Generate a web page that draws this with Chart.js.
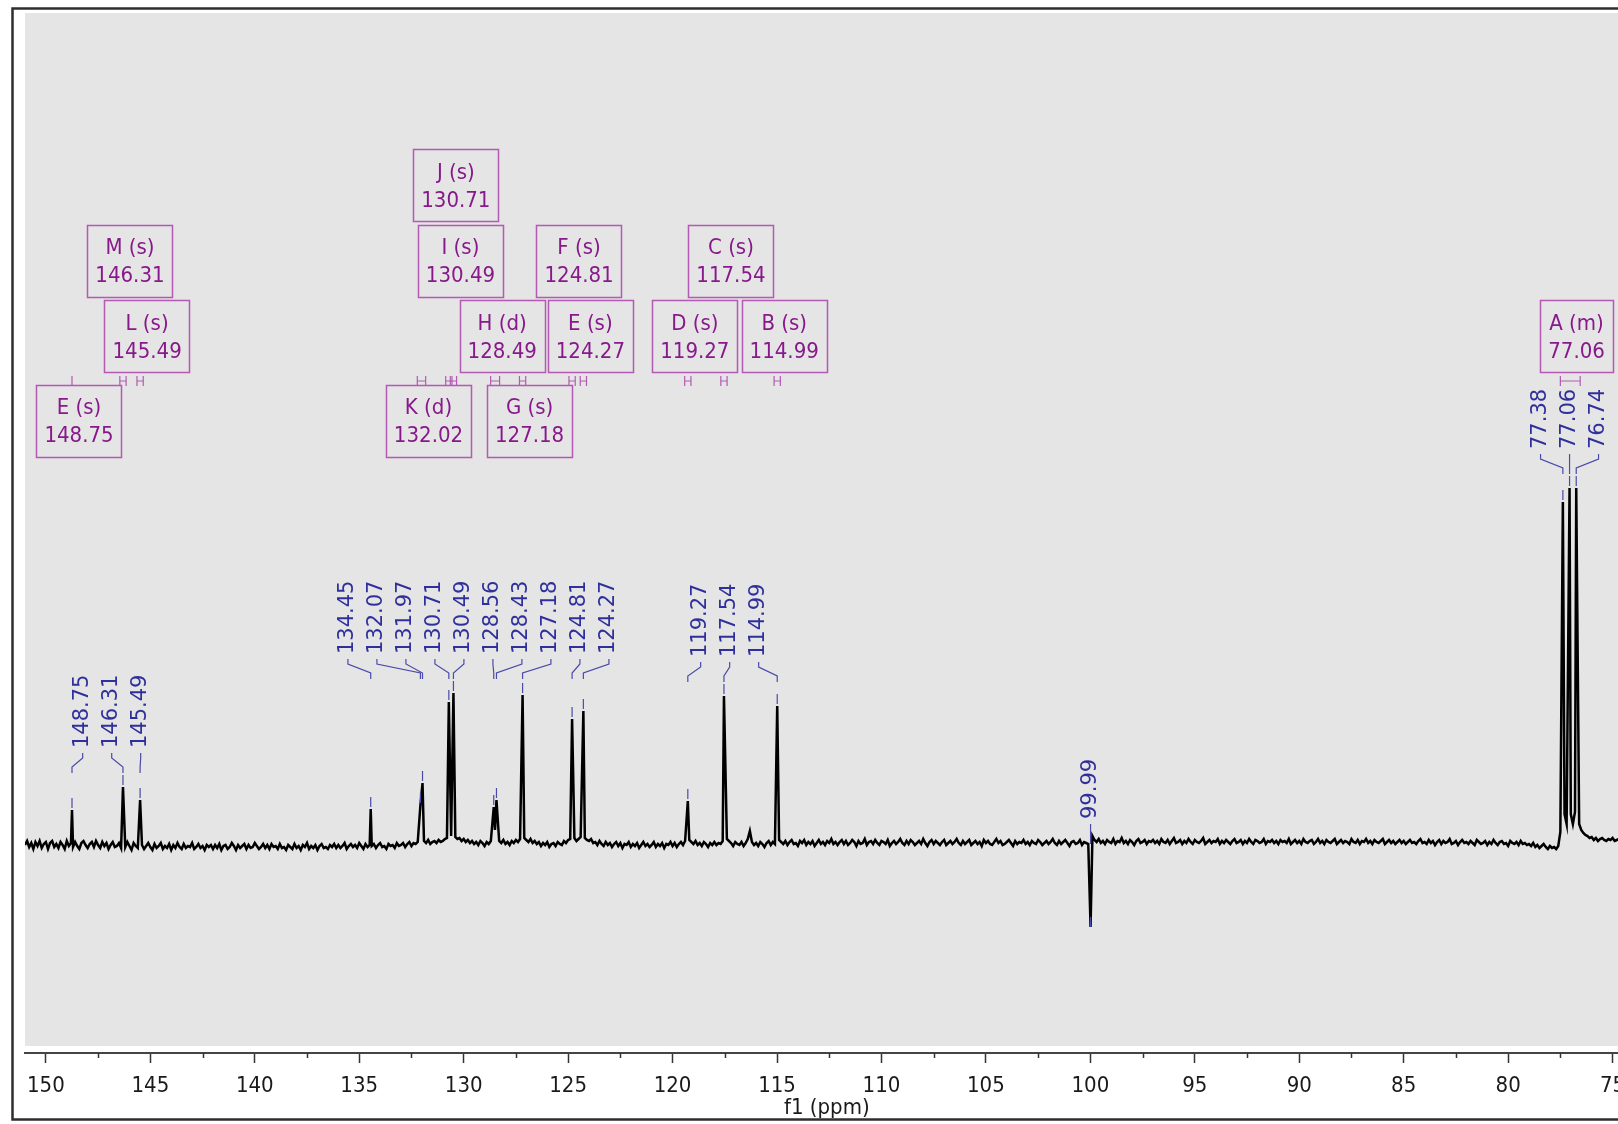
<!DOCTYPE html>
<html>
<head>
<meta charset="utf-8">
<title>13C NMR spectrum</title>
<script src="https://cdn.jsdelivr.net/npm/chart.js@4.4.1/dist/chart.umd.min.js"></script>
<style>
  html, body { margin: 0; padding: 0; background: #fff; overflow: hidden; }
  #wrap { position: relative; width: 1618px; height: 1124px; overflow: hidden; }
  #spec { position: absolute; left: 0; top: 0; }
</style>
</head>
<body>
<div id="wrap"><canvas id="spec" width="1660" height="1124"></canvas></div>
<script>
// ---- spectral window (ppm); the plot runs past the right edge of the page ----
const ppmStart = 151.0;
const ppmEnd = 72.73;
const baselineStep = 0.1;            // ppm between baseline samples
const axisMajorStep = 5;
const axisMinorStep = 2.5;

// baseline samples from 151.0 ppm downwards (arbitrary intensity units)
const baselineNoise = [
  -1, 3, -3, 1, -5, 2, -2, 3, -4, 0, 2, -5, 1, 3, -3, 0, -4, 2, -1, -5, 3, -2, 1, -3, 2, -2, -5, 1, 3, -1,
  -4, 0, 2, -3, 3, -1, -4, 2, -2, 1, -5, -1, 2, -3, -2, 1, -4, 0, -3, 2, -2, -6, 1, -2, -4, 2, -1, -5, -2, 1,
  -3, -6, 0, -4, -2, 1, -5, -2, -4, 0, -6, -1, -4, 1, -3, -5, 0, -4, -2, -3, 1, -5, -3, 0, -4, -2, -6, -1, -3, -1,
  -5, -1, -4, 0, -6, -2, -1, -5, -3, 1, -2, -6, -1, -4, -2, 0, -5, -1, -4, -3, 1, -2, -5, -3, 0, -4, -1, -5, 0, -3,
  -2, -5, 0, -4, -3, -6, -1, -3, -5, 0, -4, -2, -6, -1, -3, 1, -5, -2, -4, -1, -6, -2, 0, -4, -3, -5, -1, -3, 0, -4,
  -1, -4, -2, 1, -5, -2, 0, -3, -1, -4, 1, -2, -5, 0, -3, -1, -2, 0, -4, -1, 1, -3, -2, -5, 0, -2, -1, -4, 1, -2,
  -1, 1, -3, 0, 2, -2, 1, 0, 2, 0, 0, 3, 1, 4, 0, 2, 3, 1, 4, 2, 3, 5, 6, 0, 8, 0, 7, 5, 6, 3,
  5, 2, 4, 1, 3, 0, 2, -1, 3, 1, -2, 2, 0, 3, 0, 14, 0, 3, 1, 4, 0, 2, -1, 3, 1, 4, 2, 5, 0, 6,
  4, 2, 5, 1, 3, 0, 2, -2, 1, -1, 2, -3, 0, 1, -2, 2, 0, -1, 3, 1, 4, 5, 0, 6, 3, 5, 7, 0, 6, 4,
  3, 5, 1, 2, -1, 3, 0, -2, 2, -1, 1, -3, 0, 2, -2, 1, -4, 0, -1, 2, -3, 0, -2, 1, -4, -1, 2, -2, 0, -3,
  -1, 2, -3, 0, -2, 1, -4, 0, -1, 2, -2, 1, -3, 0, 2, -1, 3, 0, 4, 2, 0, 3, -1, 1, -2, 2, 0, -3, 1, -1,
  2, -1, 1, 0, 3, 0, 5, 3, 1, -2, 2, 0, -1, 2, -2, 1, 5, 13, 2, -1, 1, -2, 2, 0, -3, 1, 3, -1, 2, 0,
  0, 4, 2, 0, 3, -1, 2, 4, 0, 1, -2, 3, 1, 4, -1, 2, 0, 3, -2, 1, 4, 0, 2, -1, 3, 1, 5, 0, 2, -1,
  2, 4, 0, 3, -1, 1, 4, 2, -2, 3, 0, 1, 5, -1, 2, 3, 0, 4, 1, -1, 3, 2, 0, 4, -2, 1, 3, 0, 2, 5,
  1, -1, 3, 0, 4, 2, -1, 1, 3, 0, 5, 1, -2, 2, 4, 0, 3, 1, -1, 2, 4, -1, 1, 3, 0, 2, 5, 1, -1, 3,
  0, 2, 4, -1, 1, 3, 0, 2, -2, 4, 1, 3, 0, -1, 2, 5, 1, 3, -1, 0, 2, 4, 1, -2, 3, 0, 2, 1, 4, 0,
  2, -1, 3, 1, 0, 4, 2, -1, 1, 3, 0, 2, 5, 1, -1, 3, 0, 2, 4, 1, -2, 2, 3, 0, 1, 4, -1, 2, 1, 0,
  0, 8, 4, 2, 5, 1, 3, 0, 4, 2, 1, 5, 0, 3, 2, 6, 1, 3, 0, 4, 2, -1, 3, 5, 1, 2, 4, 0, 3, 2,
  4, 1, 3, 0, 5, 2, 1, 4, 0, 3, 6, 1, 2, 4, 0, 3, 1, 5, 2, 0, 4, 2, 1, 3, 6, 0, 2, 4, 1, 3,
  2, 5, 0, 3, 1, 4, 2, 0, 3, 5, 1, 2, 4, 0, 3, 1, 5, 2, 0, 4, 3, 1, 2, 5, 0, 3, 2, 4, 1, 3,
  0, 4, 2, 3, 1, 5, 0, 2, 4, 1, 3, 0, 5, 2, 1, 3, 4, 0, 2, 5, 1, 3, 0, 4, 2, 1, 3, 5, 0, 2,
  4, 1, 3, 2, 0, 5, 2, 1, 4, 0, 3, 2, 5, 1, 3, 0, 4, 2, 1, 3, 5, 0, 2, 4, 1, 3, 0, 2, 4, 1,
  3, 0, 2, 4, 1, 2, 0, 3, 5, 1, 2, 0, 4, 1, 3, -1, 2, 4, 0, 3, 1, 2, 5, 0, 1, 3, -1, 2, 4, 1,
  2, 0, 3, 1, -1, 4, 2, 0, 1, 3, -1, 2, 0, 4, 1, -1, 2, 3, 0, 1, -2, 3, 1, 0, 2, -1, 3, 0, 1, -1,
  0, -2, 1, -3, -1, -4, -2, 0, -3, -5, -2, -4, -3, -5, -2, 12, 0, 30, 20, 0, 30, 20, 32, 0, 20, 14, 11, 9, 8, 6,
  7, 4, 6, 3, 5, 6, 4, 3, 5, 4, 6, 3, 4, 5, 3, 5, 4, 2, 4, 3, 5, 2, 4, 3, 1, 4, 3, 2, 4, 3, 1, 3, 2, 4
];

// picked peaks (ppm) and their heights
const peakShifts  = [148.75, 146.31, 145.49, 134.45, 132.07, 131.97, 130.71, 130.49, 128.56, 128.43,
                     127.18, 124.81, 124.27, 119.27, 117.54, 114.99, 99.99, 77.38, 77.06, 76.74];
const peakHeights = [34, 57, 44, 35, 39, 61, 142, 151, 37, 44,
                     149, 125, 133, 43, 148, 138, -83, 342, 356, 356];

// multiplet analysis
const multipletNames  = ['E (s)', 'M (s)', 'L (s)', 'K (d)', 'J (s)', 'I (s)', 'H (d)',
                         'G (s)', 'F (s)', 'E (s)', 'D (s)', 'C (s)', 'B (s)', 'A (m)'];
const multipletShifts = [148.75, 146.31, 145.49, 132.02, 130.71, 130.49, 128.49,
                         127.18, 124.81, 124.27, 119.27, 117.54, 114.99, 77.06];
const multipletFrom   = [148.75, 146.46, 145.64, 132.22, 130.86, 130.64, 128.71,
                         127.33, 124.96, 124.42, 119.42, 117.69, 115.14, 77.50];
const multipletTo     = [148.75, 146.16, 145.34, 131.82, 130.56, 130.34, 128.28,
                         127.03, 124.66, 124.12, 119.12, 117.39, 114.84, 76.55];

// ---- build the trace: baseline samples plus peak maxima ----
const spectrum = [];
baselineNoise.forEach((v, i) => {
  const x = +(ppmStart - i * baselineStep).toFixed(3);
  if (peakShifts.some(p => Math.abs(p - x) <= 0.045)) return;
  spectrum.push({ x, y: v });
});
peakShifts.forEach((p, i) => spectrum.push({ x: p, y: peakHeights[i] }));
spectrum.sort((a, b) => b.x - a.x);

// ---- drawing helpers ----
const NARROW = "'DejaVu Sans Condensed', 'DejaVu Sans', sans-serif";
const WIDE = "'DejaVu Sans', 'Verdana', sans-serif";
const LABEL_BLUE = '#30309c';
const LINK_BLUE = '#4a4aaa';
const BOX_LINE = '#b45ab4';
const BOX_TEXT = '#87198a';

const backdrop = {
  id: 'backdrop',
  beforeDraw(chart) {
    const { ctx, chartArea: a } = chart;
    ctx.save();
    ctx.fillStyle = '#ffffff';
    ctx.fillRect(0, 0, chart.width, chart.height);
    ctx.fillStyle = '#e5e5e5';
    ctx.fillRect(a.left, a.top, a.right - a.left, a.bottom - 7 - a.top);
    ctx.strokeStyle = '#2e2e2e';
    ctx.lineWidth = 2.5;
    ctx.strokeRect(12.5, 8.5, chart.width + 40, 1111);
    ctx.restore();
  }
};

const minorTicks = {
  id: 'minorTicks',
  afterDraw(chart) {
    const { ctx, chartArea: a } = chart;
    const xs = chart.scales.x;
    ctx.save();
    ctx.strokeStyle = '#333';
    ctx.lineWidth = 1.5;
    for (let v = Math.ceil(ppmEnd / axisMinorStep) * axisMinorStep; v <= ppmStart; v += axisMinorStep) {
      if (Math.abs(v / axisMajorStep - Math.round(v / axisMajorStep)) < 1e-6) continue;
      const px = Math.round(xs.getPixelForValue(v)) + 0.5;
      ctx.beginPath();
      ctx.moveTo(px, a.bottom);
      ctx.lineTo(px, a.bottom + 5);
      ctx.stroke();
    }
    ctx.restore();
  }
};

// peak labels: rotated values grouped so that neighbours never collide
const peakLabels = {
  id: 'peakLabels',
  afterDatasetsDraw(chart) {
    const { ctx } = chart;
    const xs = chart.scales.x, ys = chart.scales.y;
    const base = ys.getPixelForValue(0);
    const SP = 29, GAP = 35;
    const items = peakShifts.map((p, i) => ({
      text: p.toFixed(2),
      px: xs.getPixelForValue(p),
      h: peakHeights[i],
      tip: ys.getPixelForValue(peakHeights[i])
    })).sort((a, b) => a.px - b.px);

    const centre = g => g.reduce((s, m) => s + m.px, 0) / g.length;
    const groups = items.map(it => [it]);
    let merged = true;
    while (merged) {
      merged = false;
      for (let k = 0; k < groups.length - 1; k++) {
        const a = groups[k], b = groups[k + 1];
        if (centre(a) + a.length * SP / 2 + GAP > centre(b) - b.length * SP / 2) {
          groups.splice(k, 2, a.concat(b));
          merged = true;
          break;
        }
      }
    }

    ctx.save();
    ctx.font = `21px ${WIDE}`;
    ctx.lineWidth = 1.2;
    for (const g of groups) {
      const n = g.length, c = centre(g);
      let ref = Infinity;
      g.forEach(m => { ref = Math.min(ref, m.h > 0 ? m.tip : base + 14); });
      const tb = ref - 39;
      g.forEach((m, k) => {
        const lx = c + (k - (n - 1) / 2) * SP;
        ctx.save();
        ctx.translate(lx, tb);
        ctx.rotate(-Math.PI / 2);
        ctx.fillStyle = LABEL_BLUE;
        ctx.textAlign = 'left';
        ctx.textBaseline = 'middle';
        ctx.fillText(m.text, 0, 0);
        ctx.restore();

        ctx.strokeStyle = LINK_BLUE;
        ctx.beginPath();
        ctx.moveTo(lx, tb + 5);
        ctx.lineTo(lx, tb + 10);
        ctx.lineTo(m.px, tb + 19);
        ctx.lineTo(m.px, tb + 25);
        ctx.stroke();

        ctx.beginPath();
        if (m.h > 0) {
          ctx.moveTo(m.px, m.tip - 12);
          ctx.lineTo(m.px, m.tip - 2);
        } else {
          ctx.moveTo(m.px, m.tip - 10);
          ctx.lineTo(m.px, m.tip);
        }
        ctx.stroke();
      });
    }
    ctx.restore();
  }
};

// multiplet boxes stacked in tiers above / below the range markers
const boxTier = [3, 1, 2, 3, 0, 1, 2, 3, 1, 2, 2, 1, 2, 2];
const tierTop = [136, 211.5, 287, 371.5];
const markTop = 363, markHeight = 10;

const multipletBoxes = {
  id: 'multipletBoxes',
  afterDatasetsDraw(chart) {
    const { ctx, chartArea: a } = chart;
    const xs = chart.scales.x;
    ctx.save();
    ctx.font = `22px ${NARROW}`;
    ctx.textAlign = 'center';
    ctx.textBaseline = 'middle';
    multipletNames.forEach((name, i) => {
      const value = multipletShifts[i].toFixed(2);
      const cx = xs.getPixelForValue(multipletShifts[i]) + 7;
      const top = a.top + tierTop[boxTier[i]];
      const w = Math.max(ctx.measureText(name).width, ctx.measureText(value).width) + 16;
      ctx.strokeStyle = BOX_LINE;
      ctx.lineWidth = 1.5;
      ctx.strokeRect(Math.round(cx - w / 2) + 0.5, Math.round(top) + 0.5, Math.round(w), 72);
      ctx.fillStyle = BOX_TEXT;
      ctx.fillText(name, cx, top + 24);
      ctx.fillText(value, cx, top + 52);

      const x1 = xs.getPixelForValue(multipletFrom[i]);
      const x2 = xs.getPixelForValue(multipletTo[i]);
      const y1 = a.top + markTop, y2 = y1 + markHeight, ym = (y1 + y2) / 2;
      ctx.lineWidth = 1.2;
      ctx.beginPath();
      ctx.moveTo(x1, y1); ctx.lineTo(x1, y2);
      ctx.moveTo(x2, y1); ctx.lineTo(x2, y2);
      ctx.moveTo(x1, ym); ctx.lineTo(x2, ym);
      ctx.stroke();
    });
    ctx.restore();
  }
};

new Chart(document.getElementById('spec').getContext('2d'), {
  type: 'line',
  data: {
    datasets: [{
      data: spectrum,
      borderColor: '#000000',
      borderWidth: 2.5,
      pointRadius: 0,
      tension: 0,
      fill: false
    }]
  },
  options: {
    responsive: false,
    animation: false,
    events: [],
    layout: { autoPadding: false, padding: { left: 25, right: 0, top: 13, bottom: 5 } },
    plugins: { legend: { display: false }, tooltip: { enabled: false } },
    scales: {
      x: {
        type: 'linear',
        reverse: true,
        min: ppmEnd,
        max: ppmStart,
        ticks: {
          stepSize: axisMajorStep,
          includeBounds: false,
          autoSkip: false,
          maxRotation: 0,
          padding: 10,
          color: '#1a1a1a',
          font: { family: NARROW, size: 22 },
          callback: v => String(v)
        },
        grid: {
          drawOnChartArea: false,
          drawTicks: true,
          tickLength: 10,
          tickColor: '#333',
          tickWidth: 1.5
        },
        border: { display: true, color: '#444', width: 2 },
        title: {
          display: true,
          // trailing no-break spaces keep the caption centred on the visible part of the axis
          text: 'f1 (ppm)\u00a0\u00a0\u00a0\u00a0\u00a0',
          color: '#1a1a1a',
          font: { family: NARROW, size: 22, lineHeight: 1 },
          padding: { top: -12.4, bottom: 0 }
        }
      },
      y: { display: false, min: -209, max: 831 }
    }
  },
  plugins: [backdrop, minorTicks, peakLabels, multipletBoxes]
});
</script>
</body>
</html>
